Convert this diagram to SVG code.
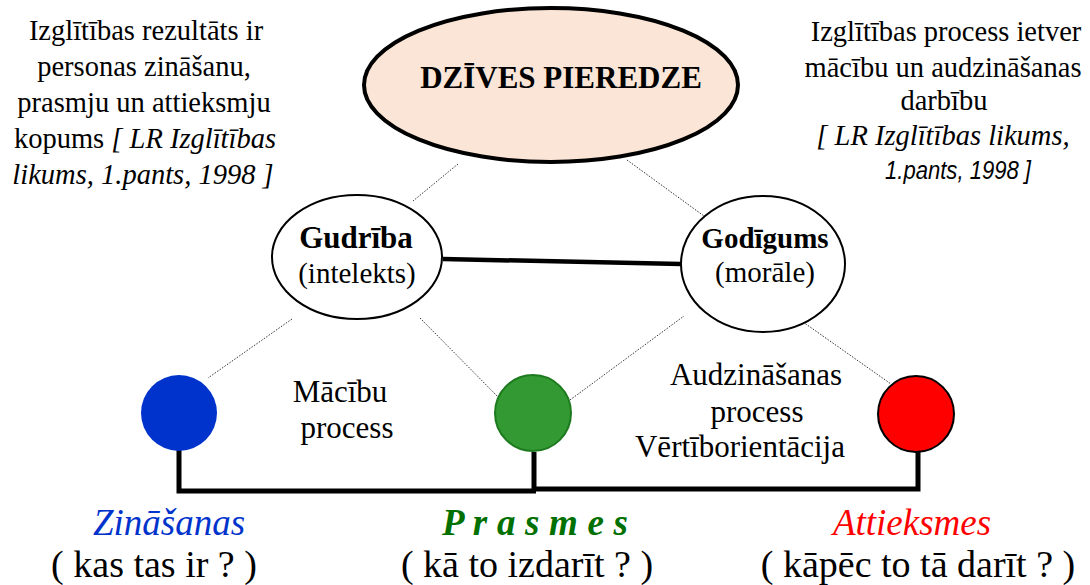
<svg xmlns="http://www.w3.org/2000/svg" width="1090" height="585" viewBox="0 0 1090 585">
<style>
.t{font-family:"Liberation Serif","Times New Roman",serif;fill:#000;}
.c{text-anchor:middle;}
.b{font-weight:bold;}
.i{font-style:italic;}
.note{font-size:28.5px;}
.dot{stroke:#333;stroke-width:1;stroke-dasharray:1.5 1.5;fill:none;}
.thick{stroke:#000;stroke-width:5;fill:none;stroke-linecap:butt;}
.node{stroke:#000;stroke-width:2;fill:#fff;}
</style>
<rect width="1090" height="585" fill="#fff"/>

<g id="note-left" class="t note c">
<text x="146" y="40">Izglītības rezultāts ir</text>
<text x="144" y="76">personas zināšanu,</text>
<text x="144" y="112">prasmju un attieksmju</text>
<text x="145" y="148">kopums <tspan class="i">[ LR Izglītības</tspan></text>
<text x="143" y="184" class="i">likums, 1.pants, 1998 ]</text>
</g>

<g id="note-right" class="t note c">
<text x="946" y="41">Izglītības process ietver</text>
<text x="943" y="77">mācību un audzināšanas</text>
<text x="944" y="110">darbību</text>
<text x="943" y="145" class="i">[ LR Izglītības likums,</text>
<text x="958" y="179" style="font-family:'Liberation Sans',Arial,sans-serif;font-style:italic;font-size:26px" textLength="146" lengthAdjust="spacingAndGlyphs">1.pants, 1998 ]</text>
</g>

<g id="connectors">
<line class="dot" x1="458" y1="164" x2="413" y2="201"/>
<line class="dot" x1="627" y1="160" x2="704" y2="216"/>
<line class="dot" x1="292" y1="319" x2="208" y2="378"/>
<line class="dot" x1="420" y1="318" x2="504" y2="403"/>
<line class="dot" x1="570" y1="400" x2="684" y2="316"/>
<line class="dot" x1="803" y1="322" x2="891" y2="384"/>
<line x1="443" y1="259" x2="681" y2="264" stroke="#000" stroke-width="4.5"/>
<polyline class="thick" points="179,444 179,491 536,491"/>
<line class="thick" x1="534" y1="452" x2="534" y2="491"/>
<polyline class="thick" points="534,489 918,489 918,450"/>
</g>

<g id="dzives">
<ellipse cx="551" cy="85" rx="187" ry="77" fill="#fbe5d6" stroke="#000" stroke-width="4"/>
<text class="t b c" x="561" y="88" font-size="31">DZĪVES PIEREDZE</text>
</g>

<g id="gudriba">
<ellipse class="node" cx="357" cy="257" rx="85" ry="62"/>
<text class="t b c" x="356" y="248" font-size="31">Gudrība</text>
<text class="t c" x="357" y="283" font-size="29">(intelekts)</text>
</g>

<g id="godigums">
<ellipse class="node" cx="763" cy="264" rx="82" ry="68"/>
<text class="t b c" x="765" y="248" font-size="29">Godīgums</text>
<text class="t c" x="765" y="282" font-size="29">(morāle)</text>
</g>

<g id="macibu-label" class="t c" font-size="31">
<text x="340" y="402">Mācību</text>
<text x="347" y="438">process</text>
</g>

<g id="audzinasanas-label" class="t c" font-size="31">
<text x="756" y="385">Audzināšanas</text>
<text x="757" y="422">process</text>
<text x="740" y="457">Vērtīborientācija</text>
</g>

<g id="zinasanas">
<circle cx="179" cy="413" r="38" fill="#0033cc"/>
<text class="t i c" x="169" y="535" font-size="37" style="fill:#0033cc">Zināšanas</text>
<text class="t c" x="154" y="577" font-size="38">( kas tas ir ? )</text>
</g>

<g id="prasmes">
<circle cx="533" cy="413" r="38" fill="#339933" stroke="#1e7a1e" stroke-width="2"/>
<text class="t b i c" x="535" y="535" font-size="37" style="fill:#007000" textLength="186" lengthAdjust="spacing">P r a s m e s</text>
<text class="t c" x="527" y="577" font-size="38">( kā to izdarīt ? )</text>
</g>

<g id="attieksmes">
<circle cx="916" cy="414" r="38" fill="#ff0000" stroke="#000" stroke-width="2"/>
<text class="t i c" x="912" y="535" font-size="37" style="fill:#ff0000">Attieksmes</text>
<text class="t c" x="918" y="577" font-size="38">( kāpēc to tā darīt ? )</text>
</g>
</svg>
